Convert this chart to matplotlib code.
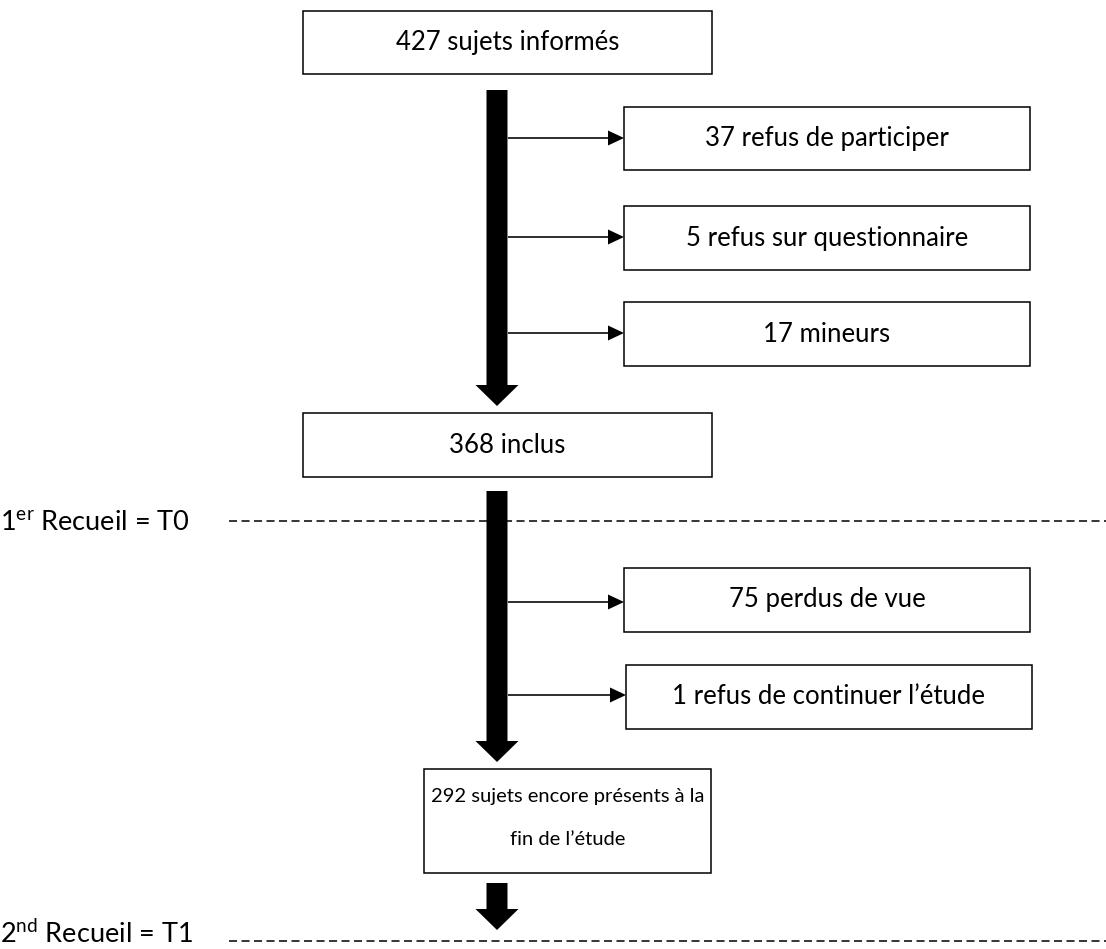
import matplotlib
matplotlib.use("Agg")
import matplotlib.pyplot as plt
from matplotlib.patches import Rectangle, FancyArrow

plt.rcParams['font.family'] = ['Lato', 'DejaVu Sans']
plt.rcParams['mathtext.fontset'] = 'custom'
plt.rcParams['mathtext.rm'] = 'Lato'
plt.rcParams['lines.scale_dashes'] = False

# flow data
main_labels = ["427 sujets informés", "368 inclus",
               "292 sujets encore présents à la\nfin de l\u2019étude"]
excl_labels = ["37 refus de participer", "5 refus sur questionnaire", "17 mineurs",
               "75 perdus de vue", "1 refus de continuer l\u2019étude"]
phase_labels = ["$\\mathrm{1^{er}}$ Recueil = T0", "$\\mathrm{2^{nd}}$ Recueil = T1"]

# layout (pixels)
main_boxes = [(303, 11, 712, 74), (303, 413, 712, 477), (424, 769, 711, 873)]
main_fs = [18.5, 18.5, 14.5]
excl_boxes = [(624, 107, 1030, 170), (624, 206, 1030, 270), (624, 302, 1030, 366),
              (624, 568, 1030, 632), (626, 665, 1032, 729)]
excl_arrow_y = [138, 237, 333, 602, 695]
big_arrows = [(90, 406), (491, 762), (883, 930)]
phase_y = [521, 941]
phase_text_y = [530, 943]

W, H = 1106, 949
fig = plt.figure(figsize=(W / 100, H / 100), dpi=100)
ax = fig.add_axes([0, 0, 1, 1])
ax.set_xlim(0, W)
ax.set_ylim(H, 0)
ax.axis("off")


def box(x0, y0, x1, y1, text, fs=18.5, ty=None):
    ax.add_patch(Rectangle((x0, y0), x1 - x0, y1 - y0, fill=False,
                           edgecolor="black", linewidth=1.1))
    if ty is None:
        ty = (y0 + y1) / 2
    ax.text((x0 + x1) / 2, ty, text, ha="center", va="center",
            fontsize=fs, linespacing=2.8)


for i, (b, t, f) in enumerate(zip(main_boxes, main_labels, main_fs)):
    box(*b, t, f, ty=818 if i == 2 else None)
for b, t in zip(excl_boxes, excl_labels):
    box(*b, t)

xc = 497
for y0, y1 in big_arrows:
    ax.add_patch(FancyArrow(xc, y0, 0, y1 - y0, width=21, head_width=43,
                            head_length=21, length_includes_head=True,
                            color="black", linewidth=0))

for b, y in zip(excl_boxes, excl_arrow_y):
    ax.add_patch(FancyArrow(508, y, b[0] - 508, 0, width=1.6, head_width=15,
                            head_length=16, length_includes_head=True,
                            color="black", linewidth=0))

for y, ty, t in zip(phase_y, phase_text_y, phase_labels):
    ax.plot([229, W], [y, y], color="black", linewidth=1.1, dashes=(5.8, 3.2))
    ax.text(0, ty, t, ha="left", va="baseline", fontsize=19.5)

fig.savefig("out.png", dpi=100)
